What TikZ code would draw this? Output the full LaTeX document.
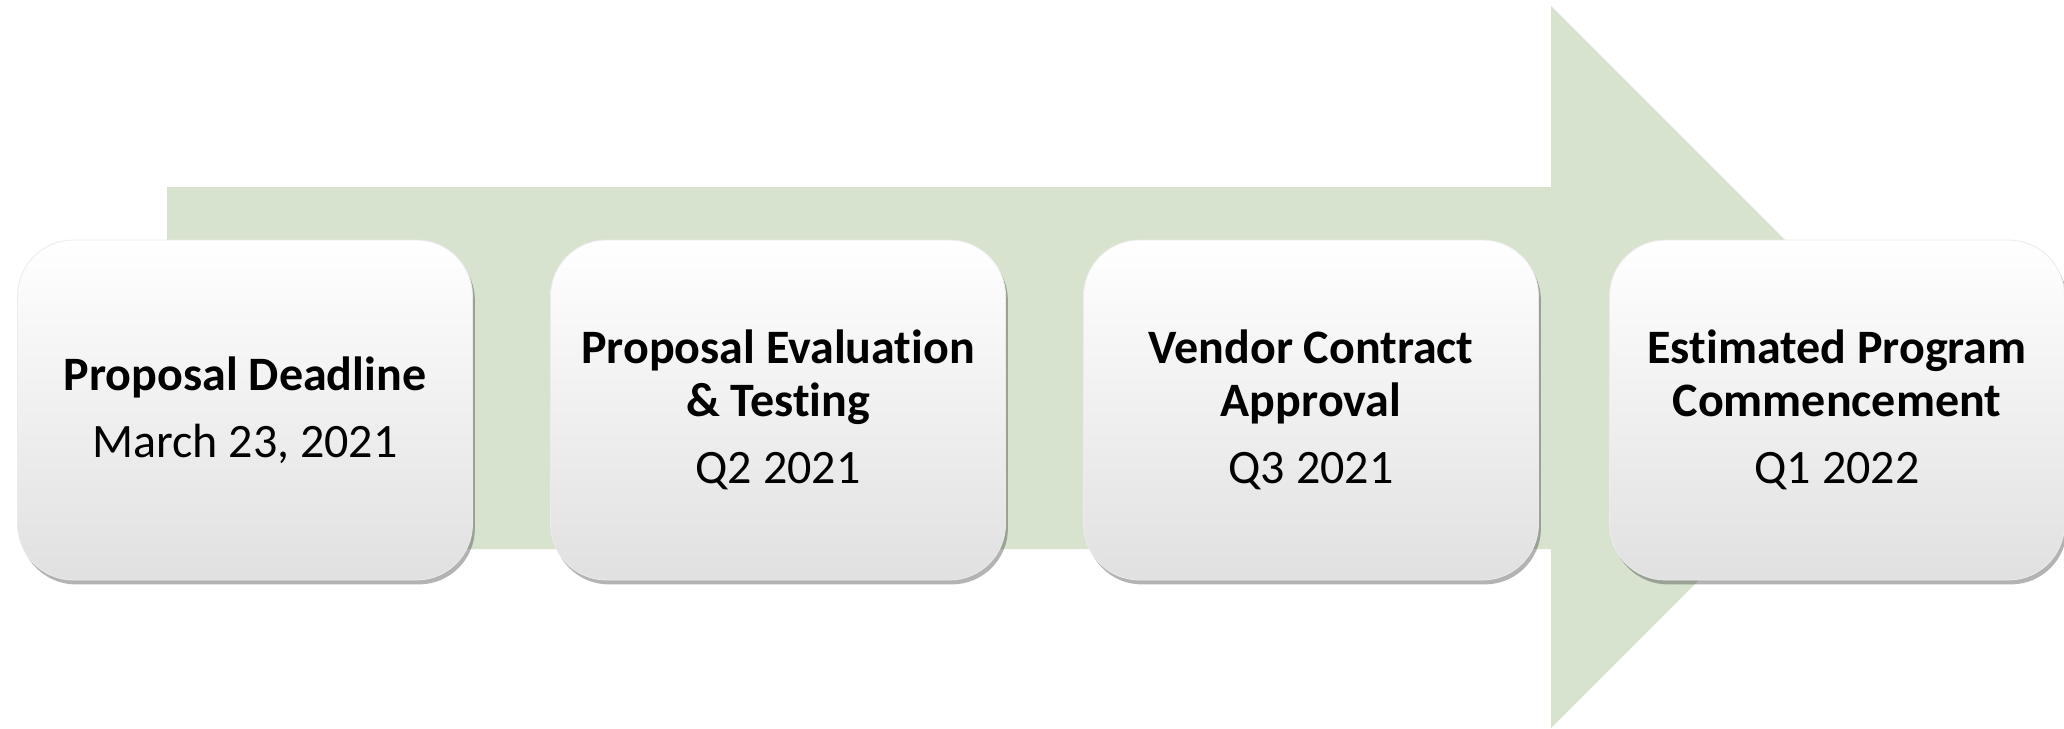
\documentclass[tikz,border=0pt]{standalone}
\usepackage{fontspec}
\setmainfont{Carlito}[Ligatures=NoCommon]
\usepackage{tikz}
\usetikzlibrary{shadows}

\definecolor{arrowgreen}{RGB}{215,227,206}

\begin{document}
\begin{tikzpicture}[x=0.5pt,y=-0.5pt,
    stage/.style={rectangle,rounded corners=28pt,draw=black!8,line width=0.4pt,
      top color=white,middle color=white,bottom color=black!12,
      minimum width=227.5pt,minimum height=170pt,align=center,
      font=\fontsize{24}{26.5}\selectfont,
      drop shadow={shadow xshift=1.2pt,shadow yshift=-2.2pt,opacity=0.4,fill=black!75}}]

        \useasboundingbox (0,0) rectangle (2064,728);

        % big arrow behind the stages
        \fill[arrowgreen] (167,187) -- (1551,187) -- (1551,6) -- (1912,367)
          -- (1551,728) -- (1551,549) -- (167,549) -- cycle;

        \node[stage]         (deadline) at (245, 410)     {\textbf{Proposal Deadline}\\[7pt]March 23, 2021};
        \node[stage]         (evaluation) at (778, 410)   {\textbf{Proposal Evaluation}\\\textbf{\& Testing}\\[7pt]Q2 2021};
        \node[stage]         (contract) at (1311, 410)    {\textbf{Vendor Contract}\\\textbf{Approval}\\[7pt]Q3 2021};
        \node[stage]         (commence) at (1837, 410)    {\textbf{Estimated Program}\\\textbf{Commencement}\\[7pt]Q1 2022};
      \end{tikzpicture}
\end{document}
